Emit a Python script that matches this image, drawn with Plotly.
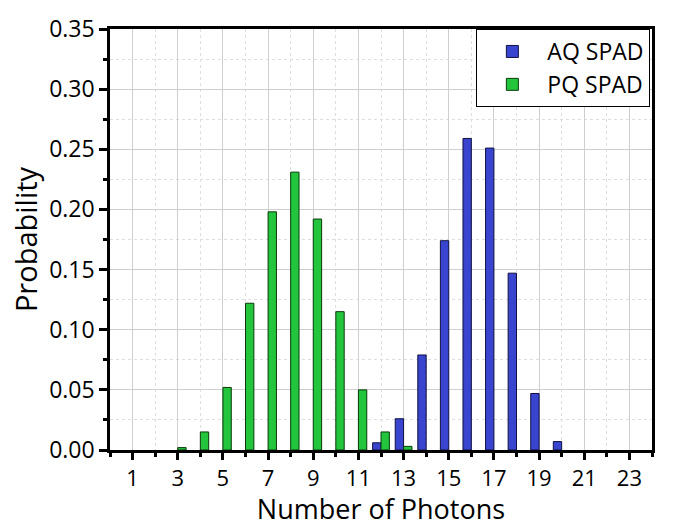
import plotly.graph_objects as go

aq_x = [12, 13, 14, 15, 16, 17, 18, 19, 20]
aq_y = [0.006, 0.026, 0.079, 0.174, 0.259, 0.251, 0.147, 0.047, 0.007]
pq_x = [3, 4, 5, 6, 7, 8, 9, 10, 11, 12, 13]
pq_y = [0.002, 0.015, 0.052, 0.122, 0.198, 0.231, 0.192, 0.115, 0.050, 0.015, 0.003]
x_ticks = [1, 3, 5, 7, 9, 11, 13, 15, 17, 19, 21, 23]

FONT = "Open Sans"
BW = 0.37

fig = go.Figure()
fig.add_trace(go.Bar(x=aq_x, y=aq_y, name="AQ SPAD", width=BW, offset=-BW,
                     marker=dict(color="#3a45cf", line=dict(color="#101040", width=1))))
fig.add_trace(go.Bar(x=pq_x, y=pq_y, name="PQ SPAD", width=BW, offset=0,
                     marker=dict(color="#22c53c", line=dict(color="#0a3a0a", width=1))))

fig.update_layout(
    width=676, height=527,
    margin=dict(l=110, r=24, t=18, b=72),
    plot_bgcolor="white", paper_bgcolor="white",
    barmode="overlay",
    font=dict(family=FONT, color="black", size=23),
    legend=dict(x=0.997, y=1.0, xanchor="right", yanchor="top",
                bgcolor="white", bordercolor="black", borderwidth=1,
                font=dict(size=23, family=FONT), tracegroupgap=0,
                itemwidth=60),
    xaxis=dict(
        range=[0, 24], tickmode="array", tickvals=x_ticks,
        ticks="outside", ticklen=7, tickwidth=2.5, tickcolor="black",
        showline=True, linewidth=2.5, linecolor="black", mirror=True,
        showgrid=True, gridcolor="#cfcfcf", gridwidth=1,
        zeroline=False,
        tickfont=dict(size=22, family=FONT),
        title=dict(text="Number of Photons", font=dict(size=27, family=FONT), standoff=4),
        minor=dict(tickmode="linear", tick0=0, dtick=1, ticks="outside", ticklen=4,
                   tickwidth=2.5, tickcolor="black", showgrid=True,
                   gridcolor="#dedede", griddash="dot", gridwidth=1),
    ),
    yaxis=dict(
        range=[0, 0.35], tick0=0, dtick=0.05, tickformat=".2f",
        ticks="outside", ticklen=8, tickwidth=2.5, tickcolor="black",
        showline=True, linewidth=2.5, linecolor="black", mirror=True,
        showgrid=True, gridcolor="#cfcfcf", gridwidth=1,
        zeroline=False,
        tickfont=dict(size=23, family=FONT),
        title=dict(text="Probability", font=dict(size=29, family=FONT), standoff=4),
        minor=dict(tick0=0, dtick=0.025, ticks="outside", ticklen=4,
                   tickwidth=2.5, tickcolor="black", showgrid=True,
                   gridcolor="#dedede", griddash="dot", gridwidth=1),
    ),
)

fig.write_html("out.html")
